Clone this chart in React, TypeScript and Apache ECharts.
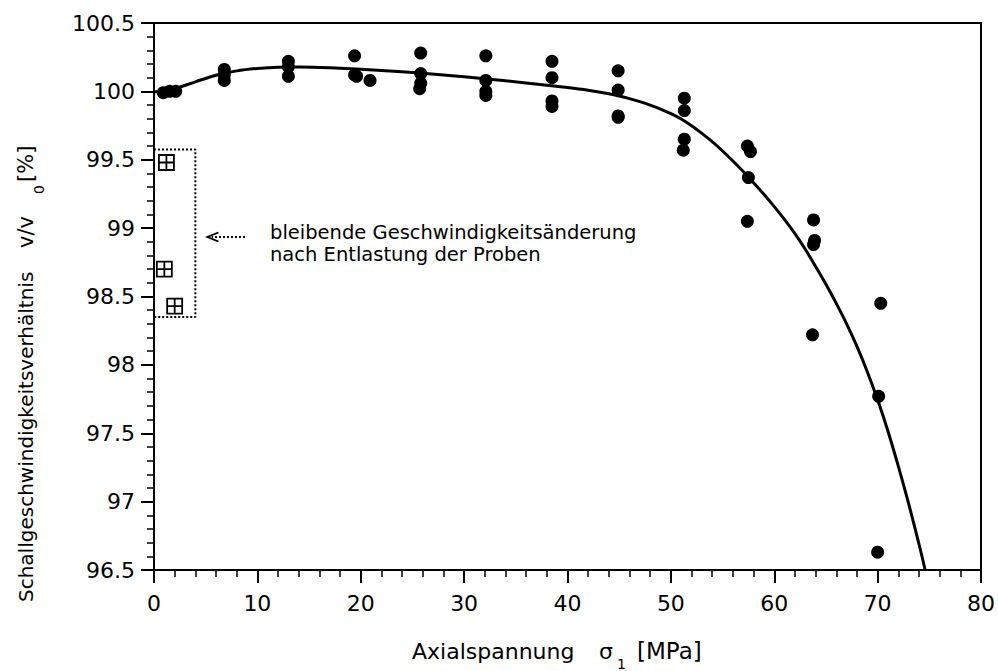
import React, { useEffect, useRef } from "react";
import * as echarts from "echarts";

// Measured velocity ratios v/v0 [%] at axial stress sigma1 [MPa]
const measuredPoints: [number, number][] = [
  [0.9, 99.99], [1.5, 100.0], [2.1, 100.0],
  [6.8, 100.16], [6.8, 100.12], [6.8, 100.08],
  [13.0, 100.22], [13.0, 100.18], [13.0, 100.11],
  [19.4, 100.26], [19.4, 100.12], [19.6, 100.11], [20.9, 100.08],
  [25.8, 100.28], [25.8, 100.13], [25.8, 100.06], [25.7, 100.02],
  [32.1, 100.26], [32.1, 100.08], [32.1, 100.0], [32.1, 99.97],
  [38.5, 100.22], [38.5, 100.1], [38.5, 99.93], [38.5, 99.89],
  [44.9, 100.15], [44.9, 100.01], [44.9, 99.82], [44.9, 99.81],
  [51.3, 99.95], [51.3, 99.86], [51.3, 99.65], [51.2, 99.57],
  [57.4, 99.6], [57.7, 99.56], [57.5, 99.37], [57.4, 99.05],
  [63.8, 99.06], [63.9, 98.91], [63.8, 98.88], [63.7, 98.22],
  [70.3, 98.45], [70.1, 97.77], [70.0, 96.63],
];

// Permanent change after unloading
const residualPoints: [number, number][] = [
  [1.2, 99.48], [1.0, 98.7], [2.0, 98.43],
];

// Fitted curve
const fitCurve: [number, number][] = [
  [0, 99.995], [2, 100.02], [4, 100.07], [6, 100.118], [8, 100.15], [10, 100.168],
  [12, 100.177], [14, 100.178], [16, 100.175], [18, 100.169], [20, 100.161],
  [24, 100.143], [28, 100.12], [32, 100.092], [36, 100.062], [40, 100.028],
  [42, 100.008], [44, 99.982], [45, 99.966], [46, 99.947], [47, 99.925],
  [48, 99.9], [49, 99.871], [50, 99.837],
  [51, 99.798], [52, 99.749], [53, 99.693], [54, 99.632], [55, 99.564],
  [56, 99.491], [57, 99.414], [58, 99.332], [59, 99.247], [60, 99.157],
  [61, 99.062], [62, 98.959], [63, 98.845], [64, 98.72], [65, 98.59],
  [66, 98.45], [67, 98.3], [68, 98.135], [69, 97.95], [70, 97.745],
  [71, 97.515], [72, 97.26], [73, 96.985], [74, 96.69], [74.6, 96.5],
];

// Dotted frame around the residual points and the annotation arrow
const residualFrame: [number, number][] = [
  [0, 99.575], [4.0, 99.575], [4.0, 98.35], [0, 98.35],
];
const arrowShaft: [number, number][] = [[8.8, 98.935], [5.6, 98.935]];
const arrowHead: [number, number][] = [[5.7, 98.935]];

const xMin = 0, xMax = 80, xStep = 10;
const yMin = 96.5, yMax = 100.5, yStep = 0.5;

const FONT = "DejaVu Sans";

export default function App() {
  const ref = useRef<HTMLDivElement>(null);
  useEffect(() => {
    if (!ref.current) return;
    const chart = echarts.init(ref.current, undefined, { renderer: "svg" });
    const axisCommon = {
      axisLine: { show: true, lineStyle: { color: "#000", width: 2 } },
      axisTick: { show: true, length: 13, lineStyle: { color: "#000", width: 2 } },
      minorTick: { show: true, splitNumber: 5, length: 7, lineStyle: { color: "#000", width: 1.5 } },
      splitLine: { show: false },
      axisLabel: { color: "#000", fontSize: 22, fontFamily: FONT },
    };
    const tv = { textVerticalAlign: "middle", verticalAlign: "middle" };
    chart.setOption({
      animation: false,
      backgroundColor: "#fff",
      grid: {
        left: 154, right: 16, top: 23, bottom: 101,
        show: true, borderColor: "#000", borderWidth: 2, backgroundColor: "transparent",
      },
      xAxis: {
        type: "value", min: xMin, max: xMax, interval: xStep,
        ...axisCommon,
        axisLabel: { ...axisCommon.axisLabel, margin: 22 },
      },
      yAxis: {
        type: "value", min: yMin, max: yMax, interval: yStep,
        ...axisCommon,
        axisLabel: { ...axisCommon.axisLabel, margin: 19 },
      },
      series: [
        {
          type: "line", data: fitCurve, smooth: 0.3, showSymbol: false, symbol: "none",
          lineStyle: { color: "#000", width: 3 }, z: 3,
        },
        {
          type: "scatter", data: measuredPoints, symbol: "circle", symbolSize: 13,
          itemStyle: { color: "#000", opacity: 1 }, z: 4,
        },
        {
          type: "scatter", data: residualPoints,
          symbol: "path://M0,0 L10,0 L10,10 L0,10 Z M5,0 L5,10 M0,5 L10,5",
          symbolSize: 15, symbolKeepAspect: true,
          itemStyle: { color: "rgba(0,0,0,0)", borderColor: "#000", borderWidth: 1.8, opacity: 1 }, z: 4,
        },
        {
          type: "line", data: residualFrame, showSymbol: false, symbol: "none",
          lineStyle: { color: "#000", width: 2, type: [2, 2] }, z: 2,
        },
        {
          type: "line", data: arrowShaft, showSymbol: false, symbol: "none",
          lineStyle: { color: "#000", width: 2, type: [2, 2] }, z: 2,
        },
        {
          type: "scatter", data: arrowHead,
          symbol: "path://M10,0 L0,5 L10,10",
          symbolSize: [11, 9],
          itemStyle: { color: "rgba(0,0,0,0)", borderColor: "#000", borderWidth: 2, opacity: 1 }, z: 4,
        },
      ],
      graphic: [
        {
          type: "text", left: 270, top: 222,
          style: { text: "bleibende Geschwindigkeitsänderung", fill: "#000", font: `19.5px "${FONT}"` },
        },
        {
          type: "text", left: 270, top: 244,
          style: { text: "nach Entlastung der Proben", fill: "#000", font: `19.5px "${FONT}"` },
        },
        {
          type: "group", x: 0, y: 0,
          children: [
            { type: "text", x: 412, y: 651, style: { text: "Axialspannung", fill: "#000", font: `22px "${FONT}"`, ...tv } },
            { type: "text", x: 599, y: 651, style: { text: "σ", fill: "#000", font: `22px "${FONT}"`, ...tv } },
            { type: "text", x: 617, y: 664, style: { text: "1", fill: "#000", font: `14px "${FONT}"`, ...tv } },
            { type: "text", x: 637, y: 651, style: { text: "[MPa]", fill: "#000", font: `23px "${FONT}"`, ...tv } },
          ],
        },
        {
          type: "group", x: 26, y: 602, rotation: Math.PI / 2,
          children: [
            { type: "text", x: 0, y: 0, style: { text: "Schallgeschwindigkeitsverhältnis", fill: "#000", font: `20px "${FONT}"`, ...tv } },
            { type: "text", x: 354, y: 0, style: { text: "v/v", fill: "#000", font: `21px "${FONT}"`, ...tv } },
            { type: "text", x: 408, y: 13, style: { text: "0", fill: "#000", font: `14px "${FONT}"`, ...tv } },
            { type: "text", x: 420, y: 0, style: { text: "[%]", fill: "#000", font: `21px "${FONT}"`, ...tv } },
          ],
        },
      ],
    });
    return () => chart.dispose();
  }, []);
  return (
    <div
      ref={ref}
      style={{ position: "fixed", left: 0, top: 0, width: 998, height: 671, background: "#fff" }}
    />
  );
}
